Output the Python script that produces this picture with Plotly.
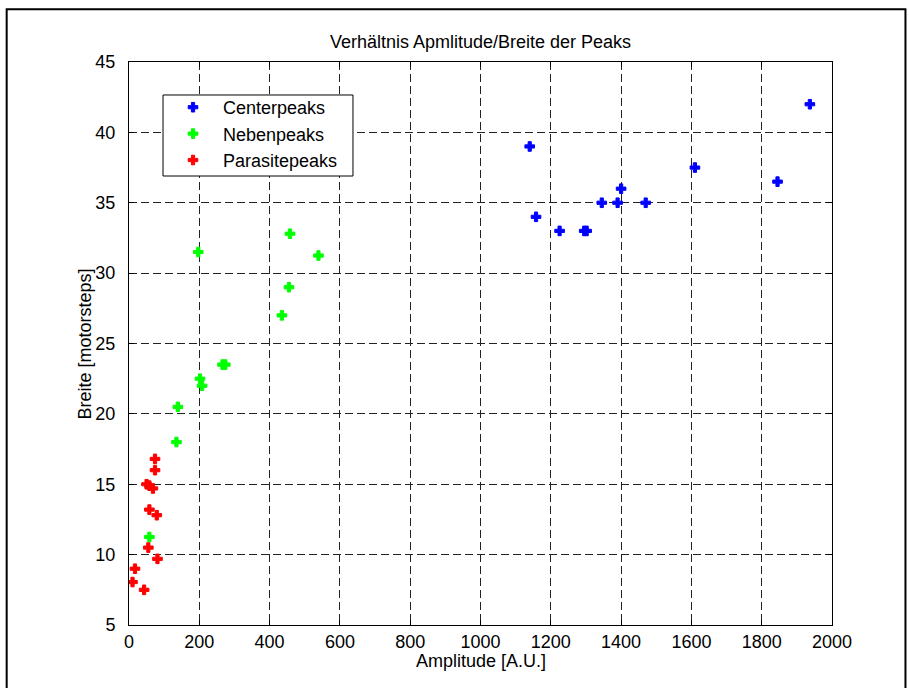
import plotly.graph_objects as go

# Centerpeaks: amplitude [A.U.] and width [motorsteps]
center_amp = [1140, 1158, 1225, 1295, 1302, 1345, 1390, 1400, 1470, 1610, 1845, 1937]
center_width = [39, 34, 33, 33, 33, 35, 35, 36, 35, 37.5, 36.5, 42]

# Nebenpeaks
neben_amp = [458, 197, 539, 455, 435, 266, 274, 202, 208, 139, 135, 58]
neben_width = [32.8, 31.5, 31.25, 29, 27, 23.5, 23.5, 22.5, 22, 20.5, 18, 11.25]

# Parasitepeaks
para_amp = [74, 74, 50, 58, 68, 58, 79, 55, 81, 17, 10, 43]
para_width = [16.8, 16, 15, 14.9, 14.7, 13.2, 12.8, 10.5, 9.7, 9, 8.05, 7.5]

x_ticks = list(range(0, 2001, 200))
y_ticks = list(range(5, 46, 5))

FONT = "Liberation Sans, Arial, sans-serif"
FS = 18

fig = go.Figure()

series = [
    ("Centerpeaks", center_amp, center_width, "#0000ff"),
    ("Nebenpeaks", neben_amp, neben_width, "#00ff00"),
    ("Parasitepeaks", para_amp, para_width, "#ff0000"),
]
for name, xs, ys, col in series:
    fig.add_trace(go.Scatter(
        x=xs, y=ys, mode="markers", name=name,
        marker=dict(symbol="cross", size=8, color=col,
                    line=dict(color=col, width=1)),
    ))

axis_common = dict(
    showline=True, linecolor="black", linewidth=1, mirror="ticks",
    ticks="inside", ticklen=5, tickcolor="black", tickwidth=1,
    showgrid=True, gridcolor="#222222", gridwidth=1, griddash="8px,4px",
    zeroline=False, tickfont=dict(family=FONT, size=FS, color="black"),
)

fig.update_xaxes(range=[0, 2000], tickvals=x_ticks, **axis_common)
fig.update_yaxes(range=[5, 45], tickvals=y_ticks, ticklabelstandoff=9,
                 **axis_common)

# axis titles
fig.add_annotation(text="Amplitude [A.U.]", xref="paper", yref="paper",
                   x=0.5, y=-0.0639, xanchor="center", yanchor="middle",
                   showarrow=False,
                   font=dict(family=FONT, size=FS, color="black"))
fig.add_annotation(text="Breite [motorsteps]", xref="paper", yref="paper",
                   x=-0.0626, y=0.5, xanchor="center", yanchor="middle",
                   textangle=-90, showarrow=False,
                   font=dict(family=FONT, size=FS, color="black"))

# outer black frame around the figure
fig.add_shape(type="rect", xref="paper", yref="paper",
              x0=-0.174, x1=1.1045, y0=-0.25, y1=1.0935,
              line=dict(color="black", width=2), fillcolor="rgba(0,0,0,0)",
              layer="below")

# legend box
fig.add_shape(type="rect", xref="paper", yref="paper",
              x0=0.0484, x1=0.3186, y0=0.7975, y1=0.9414,
              line=dict(color="black", width=1), fillcolor="white",
              layer="above")

fig.update_layout(
    width=909, height=688,
    margin=dict(l=129, r=77, t=62, b=63),
    paper_bgcolor="white", plot_bgcolor="white",
    title=dict(text="Verhältnis Apmlitude/Breite der Peaks",
               x=0.5, xanchor="center", xref="paper",
               y=1 - 42 / 688, yanchor="middle",
               font=dict(family=FONT, size=FS, color="black")),
    legend=dict(x=0.0484, y=0.9520, xanchor="left", yanchor="top",
                bgcolor="rgba(0,0,0,0)", borderwidth=0,
                font=dict(family=FONT, size=FS, color="black"),
                itemwidth=50, tracegroupgap=0),
    showlegend=True,
)

fig.write_html("out.html")
